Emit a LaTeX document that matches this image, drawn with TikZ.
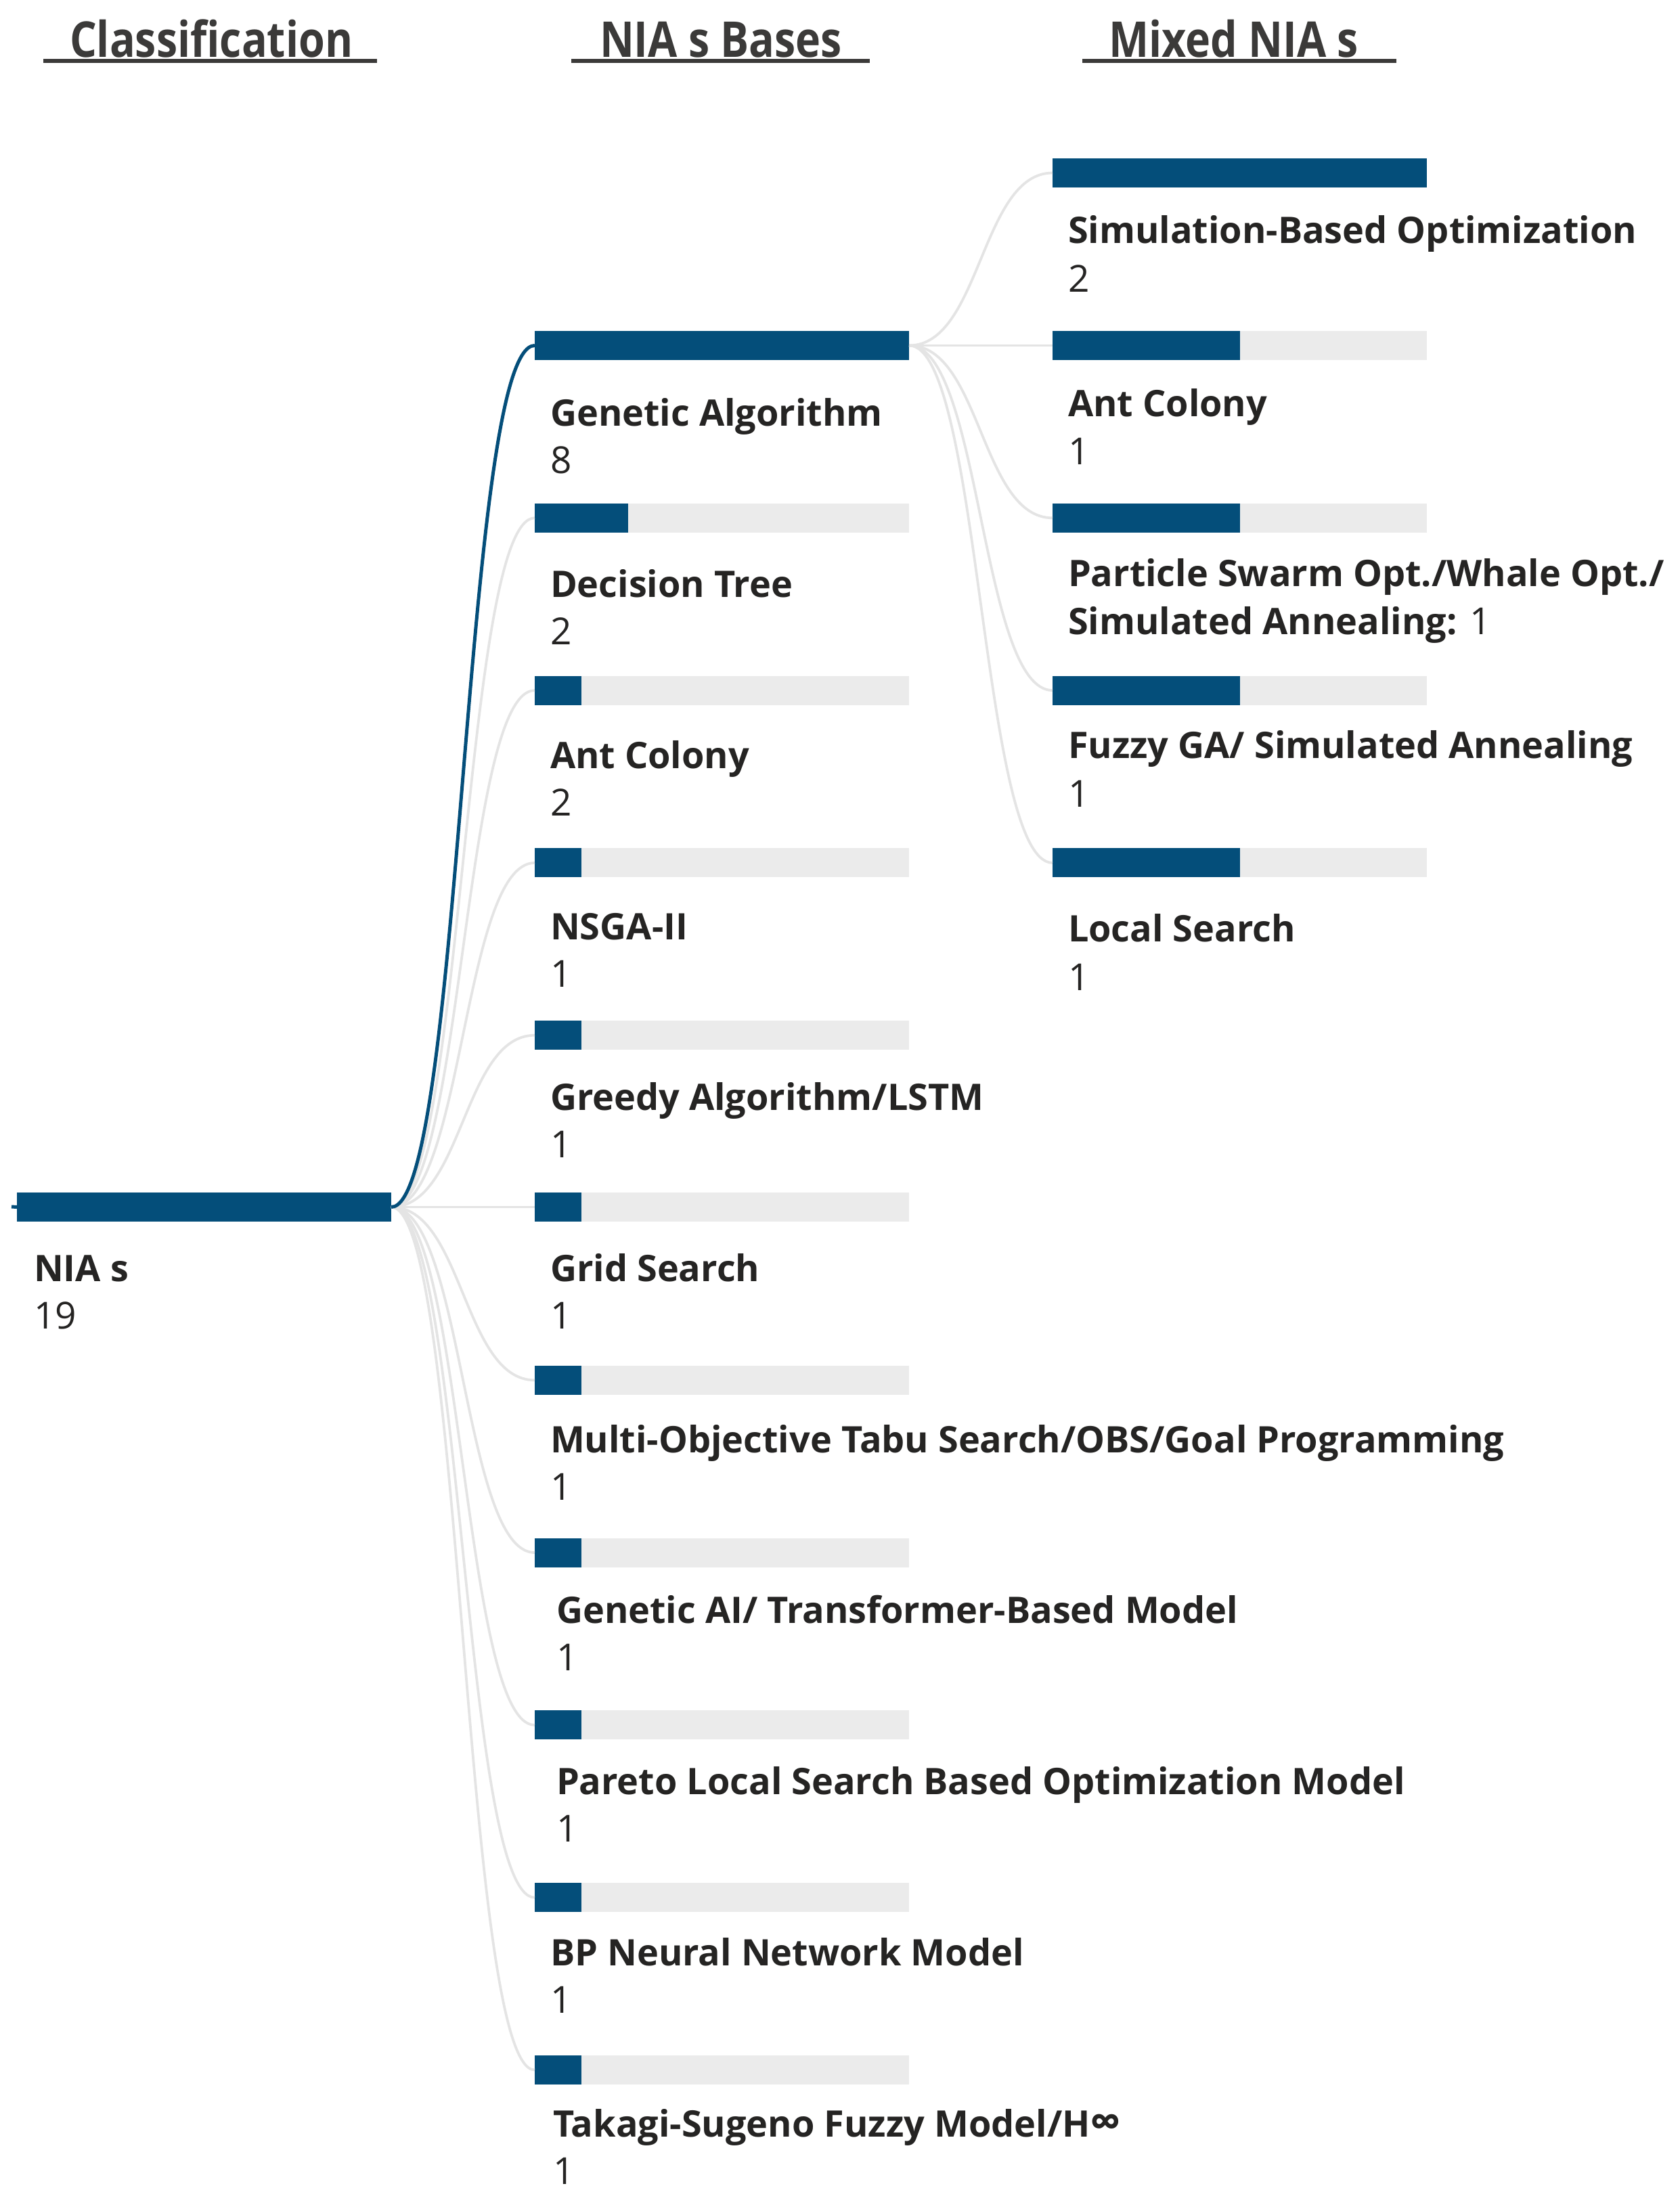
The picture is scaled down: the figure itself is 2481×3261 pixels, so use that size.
\documentclass[tikz,border=0pt]{standalone}
\usepackage{fontspec}
\setmainfont{Open Sans}
\usetikzlibrary{calc}
\definecolor{barblue}{HTML}{044E7A}
\definecolor{bargray}{HTML}{EBEBEB}
\definecolor{linkgray}{HTML}{E4E4E4}
\definecolor{txt}{HTML}{252423}
\newcommand{\lblfont}{\fontsize{12.96pt}{15pt}\selectfont\bfseries}
\newcommand{\numfont}{\fontsize{13.2pt}{15pt}\selectfont\mdseries}
\newcommand{\hdrfont}{\fontsize{17.5pt}{20pt}\selectfont\bfseries}
\newcommand{\barw}{132.72pt}
\begin{document}
\begin{tikzpicture}[x=0.24pt,y=-0.24pt,
  bar/.style={rectangle, inner sep=0pt, outer sep=0pt, minimum width=\barw, minimum height=10.32pt, fill=bargray, anchor=north west},
  lbl/.style={anchor=base west, inner sep=0pt, outer sep=0pt, text=txt, font=\lblfont},
  num/.style={anchor=base west, inner sep=0pt, outer sep=0pt, text=txt, font=\numfont},
  hdr/.style={anchor=base west, inner sep=0pt, outer sep=0pt, text=txt!90!white, font=\hdrfont},
  uline/.style={draw=txt!90!white, line width=1.3pt},
  link/.style={draw=linkgray, line width=0.9pt},
  hilink/.style={draw=barblue, line width=1.2pt}]
\fill[white] (0,0) rectangle (2481,3261);
\useasboundingbox (0,0) rectangle (2481,3261);

% headers
\node[hdr] (h1) at (103,85) {\scalebox{0.86}[1]{Classification}};
\node[hdr] (h2) at (886,85) {\scalebox{0.86}[1]{NIA s Bases}};
\node[hdr] (h3) at (1638,85) {\scalebox{0.86}[1]{Mixed NIA s}};
\draw[uline] (64,90) -- (557,90);
\draw[uline] (844,90) -- (1285,90);
\draw[uline] (1599,90) -- (2063,90);

% root
\node[bar] (nia) at (25,1762) {};
\fill[barblue] (nia.north west) rectangle (nia.south east);
\coordinate (stub) at (17,1783);
\node[lbl] (nial) at (50,1893.5) {NIA s};
\node[num] (nian) at (50,1963.5) {19};

% column 2 bars
\node[bar] (b0) at (790,489.0) {};
\node[bar] (b1) at (790,743.8) {};
\node[bar] (b2) at (790,998.6) {};
\node[bar] (b3) at (790,1253.4) {};
\node[bar] (b4) at (790,1508.2) {};
\node[bar] (b5) at (790,1762.0) {};
\node[bar] (b6) at (790,2017.8) {};
\node[bar] (b7) at (790,2272.6) {};
\node[bar] (b8) at (790,2527.4) {};
\node[bar] (b9) at (790,2782.2) {};
\node[bar] (b10) at (790,3037.0) {};
\fill[barblue] (b0.north west) rectangle (b0.south east);
\fill[barblue] (b1.north west) rectangle ([xshift=0.25*\barw]b1.south west);
\foreach \b in {b2,b3,b4,b5,b6,b7,b8,b9,b10}
  \fill[barblue] (\b.north west) rectangle ([xshift=0.125*\barw]\b.south west);

% column 2 labels
\node[lbl] (l0) at (813,630) {Genetic Algorithm};
\node[num] (n0) at (813,700) {8};
\node[lbl] (l1) at (813,882.7) {Decision Tree};
\node[num] (n1) at (813,952.7) {2};
\node[lbl] (l2) at (813,1135.4) {Ant Colony};
\node[num] (n2) at (813,1205.4) {2};
\node[lbl] (l3) at (813,1388.1) {NSGA-II};
\node[num] (n3) at (813,1458.1) {1};
\node[lbl] (l4) at (813,1640.8) {Greedy Algorithm/LSTM};
\node[num] (n4) at (813,1710.8) {1};
\node[lbl] (l5) at (813,1893.5) {Grid Search};
\node[num] (n5) at (813,1963.5) {1};
\node[lbl] (l6) at (813,2146.2) {Multi-Objective Tabu Search/OBS/Goal Programming};
\node[num] (n6) at (813,2216.2) {1};
\node[lbl] (l7) at (822,2398.9) {Genetic AI/ Transformer-Based Model};
\node[num] (n7) at (822,2468.9) {1};
\node[lbl] (l8) at (822,2651.6) {Pareto Local Search Based Optimization Model};
\node[num] (n8) at (822,2721.6) {1};
\node[lbl] (l9) at (813,2904.3) {BP Neural Network Model};
\node[num] (n9) at (813,2974.3) {1};
\node[lbl] (l10) at (817,3157) {Takagi-Sugeno Fuzzy Model/H{\fontsize{15.5pt}{15pt}\selectfont ∞}};
\node[num] (n10) at (817,3227) {1};

% column 3 bars
\node[bar] (c0) at (1555,234) {};
\node[bar] (c1) at (1555,489.0) {};
\node[bar] (c2) at (1555,743.8) {};
\node[bar] (c3) at (1555,998.6) {};
\node[bar] (c4) at (1555,1253.4) {};
\fill[barblue] (c0.north west) rectangle (c0.south east);
\foreach \c in {c1,c2,c3,c4}
  \fill[barblue] (\c.north west) rectangle ([xshift=0.5*\barw]\c.south west);

% column 3 labels
\node[lbl] (m0) at (1578,360) {Simulation-Based Optimization};
\node[num] (k0) at (1578,432) {2};
\node[lbl] (m1) at (1578,616) {Ant Colony};
\node[num] (k1) at (1578,687) {1};
\node[lbl] (m2a) at (1578,867) {Particle Swarm Opt./Whale Opt./};
\node[lbl] (m2b) at (1578,937) {Simulated Annealing: {\numfont 1}};
\node[lbl] (m3) at (1578,1120) {Fuzzy GA/ Simulated Annealing};
\node[num] (k3) at (1578,1192) {1};
\node[lbl] (m4) at (1578,1391) {Local Search};
\node[num] (k4) at (1578,1463) {1};

% connectors root -> column 2
\foreach \b in {b1,b2,b3,b4,b5,b6,b7,b8,b9,b10}
  \draw[link] (nia.east) .. controls +(106,0) and +(-106,0) .. (\b.west);
% connectors GA -> column 3
\foreach \c in {c0,c1,c2,c3,c4}
  \draw[link] (b0.east) .. controls +(106,0) and +(-106,0) .. (\c.west);
\draw[hilink] (nia.east) .. controls +(106,0) and +(-106,0) .. (b0.west);
\draw[barblue, line width=1.2pt] (stub) -- (nia.west);
\end{tikzpicture}
\end{document}
